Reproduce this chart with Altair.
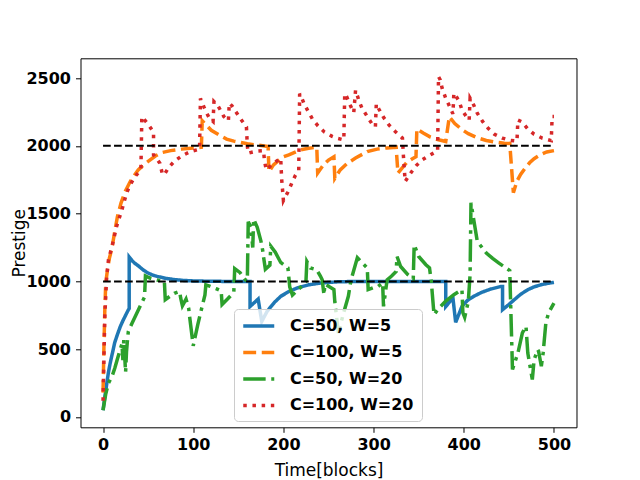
import altair as alt
import pandas as pd

SERIES = ["C=50, W=5", "C=100, W=5", "C=50, W=20", "C=100, W=20"]
COLORS = ["#1f77b4", "#ff7f0e", "#2ca02c", "#d62728"]
DASHES = [[1, 0], [12.9, 5.6], [22.4, 5.6, 3.5, 5.6], [3.5, 5.7]]

X_TICKS = [0, 100, 200, 300, 400, 500]
Y_TICKS = [0, 500, 1000, 1500, 2000, 2500]
TARGETS = [1000, 2000]

BLUE = [(0,50),(2,150),(4,240),(6,330),(8,400),(10,460),(13,550),(16,610),(19,665),(22,710),
        (25,750),(28,790),(29,800),(29,1180),(32,1155),(35,1135),(39,1116),(45,1082),(50,1062),
        (55,1047),(60,1037),(65,1030),(70,1022),(80,1013),(90,1007),(100,1004),(120,1001),
        (140,1000),(163,1000),(163,815),(172,870),(176,705),(182,780),(190,845),(197,890),
        (206,925),(215,951),(228,975),(241,988),(260,997),(280,1000),(380,1000),(380,815),
        (388,877),(391,698),(398,816),(404,860),(411,890),(420,920),(430,944),(441,963),
        (443,963),(443,791),(450,830),(456,865),(463,905),(471,939),(478,960),(486,976),
        (493,986),(500,993)]

ORANGE = [(0,180),(1,520),(2,800),(3,990),(5,1090),(7,1170),(10,1250),(13,1370),(16,1480),
          (20,1580),(25,1670),(30,1735),(35,1785),(39,1823),(45,1860),(50,1885),(58,1925),
          (65,1950),(75,1965),(87,1976),(100,1985),(109,1990),(110,2185),(115,2150),(120,2115),
          (130,2075),(137,2050),(145,2035),(160,2015),(172,2005),(183,1995),(184,1810),
          (189,1860),(199,1917),(206,1934),(219,1971),(228,1982),(237,1990),(238,1800),
          (245,1865),(250,1895),(256,1920),(257,1760),(263,1823),(271,1872),(280,1910),
          (293,1958),(304,1976),(315,1985),(325,1990),(327,1800),(332,1840),(337,1880),
          (343,1905),(347,1920),(348,2125),(355,2095),(363,2065),(372,2045),(380,2032),
          (384,2215),(390,2165),(398,2120),(405,2090),(415,2060),(425,2040),(435,2028),
          (445,2020),(451,2018),(455,1655),(459,1740),(463,1790),(468,1835),(473,1875),
          (478,1905),(485,1935),(492,1955),(500,1965)]

GREEN = [(0,50),(3,170),(6,250),(10,300),(13,360),(16,430),(19,497),(21,540),(22,420),
         (23,570),(25,330),(26,480),(27,560),(28,630),(32,690),(37,760),(42,830),(46,885),
         (47,1040),(52,1025),(60,1010),(68,1000),(69,865),(74,890),(79,912),(85,926),(86,880),
         (88,820),(92,870),(95,800),(96,740),(100,525),(105,680),(110,820),(113,900),(114,975),
         (119,963),(126,945),(131,930),(132,830),(138,870),(145,920),(146,1095),(152,1065),
         (158,1010),(160,1005),(161,1440),(164,1400),(166,1250),(167,1460),(171,1400),
         (175,1300),(177,1230),(178,1180),(180,1090),(185,1120),(186,1260),(191,1215),
         (197,1140),(205,1100),(207,960),(210,900),(218,950),(225,1000),(226,1147),(230,1099),
         (237,1086),(241,1040),(243,1012),(245,900),(246,980),(256,940),(257,850),(261,620),
         (266,750),(272,890),(275,1012),(282,1175),(287,1140),(293,1099),(294,940),(300,955),
         (305,963),(310,990),(311,816),(315,1012),(320,1040),(325,1074),(326,1184),(330,1110),
         (338,1050),(344,1020),(345,1270),(350,1184),(358,1123),(362,1100),(364,1000),
         (367,755),(372,800),(380,855),(389,902),(398,940),(399,769),(401,735),(405,850),
         (407,1050),(408,1580),(415,1295),(425,1210),(432,1170),(439,1135),(447,1099),
         (451,1080),(454,350),(460,472),(465,620),(469,668),(471,472),(476,276),(478,423),
         (482,497),(483,484),(486,374),(488,472),(491,693),(494,767),(500,840)]

RED = [(0,120),(1,450),(2,750),(4,1030),(6,1160),(10,1260),(15,1405),(21,1530),(26,1650),
       (30,1710),(35,1770),(42,1825),(43,2215),(47,2184),(51,2150),(54,2120),(56,2100),
       (56,1934),(60,1900),(63,1872),(66,1786),(69,1800),(73,1843),(80,1892),(88,1929),
       (97,1958),(107,1976),(108,2350),(112,2285),(115,2241),(118,2204),(122,2180),
       (123,2327),(127,2300),(130,2265),(134,2216),(139,2185),(140,2315),(143,2295),
       (148,2245),(153,2195),(159,2140),(160,2000),(161,1946),(166,1955),(171,1962),
       (178,1965),(179,1890),(181,1823),(187,1860),(192,1885),(197,1909),(198,1760),
       (200,1597),(205,1660),(209,1720),(213,1779),(217,1820),(218,2385),(220,2360),
       (223,2310),(227,2260),(232,2200),(238,2150),(245,2105),(254,2070),(260,2055),
       (267,2044),(268,2385),(270,2365),(274,2302),(278,2245),(280,2410),(284,2330),
       (287,2280),(293,2216),(298,2165),(302,2140),(303,2310),(306,2270),(311,2211),
       (317,2155),(324,2106),(332,2057),(333,1934),(335,1737),(341,1799),(347,1853),
       (354,1897),(363,1934),(371,1963),(372,2511),(374,2486),(376,2425),(380,2351),
       (384,2295),(388,2236),(389,2388),(392,2360),(395,2327),(398,2265),(404,2204),
       (406,2190),(407,2351),(411,2302),(415,2241),(421,2179),(427,2130),(434,2086),
       (443,2057),(452,2040),(459,2035),(460,2191),(464,2179),(471,2125),(478,2086),
       (487,2057),(497,2039),(498,2216),(500,2216)]

rows = []
for name, pts in zip(SERIES, [BLUE, ORANGE, GREEN, RED]):
    for i, (t, v) in enumerate(pts):
        rows.append({"series": name, "t": t, "v": v, "i": i})
df = pd.DataFrame(rows)

hdf = pd.DataFrame({"t": [0 for _ in TARGETS], "t2": [500 for _ in TARGETS], "v": TARGETS})

FONT = "DejaVu Sans"

X = alt.X("t:Q",
          scale=alt.Scale(domain=[-25, 525], nice=False, zero=False),
          axis=alt.Axis(values=X_TICKS, format="d", title="Time[blocks]", grid=False, domain=False,
                        tickColor="black", tickSize=5, tickWidth=1,
                        labelFont=FONT, labelFontSize=16, labelFontWeight="bold",
                        labelColor="black", labelPadding=4, labelFlush=False,
                        titleFont=FONT, titleFontSize=17, titleFontWeight="normal",
                        titleColor="black", titleX=248, titleY=48,
                        titleBaseline="alphabetic", titleAlign="center"))
Y = alt.Y("v:Q",
          scale=alt.Scale(domain=[-76, 2646], nice=False, zero=False),
          axis=alt.Axis(values=Y_TICKS, format="d", title="Prestige", grid=False, domain=False,
                        tickColor="black", tickSize=5, tickWidth=1,
                        labelFont=FONT, labelFontSize=16, labelFontWeight="bold",
                        labelColor="black", labelPadding=5, labelFlush=False,
                        titleFont=FONT, titleFontSize=17, titleFontWeight="normal",
                        titleColor="black", titleX=-61, titleY=184.5, titleAngle=270,
                        titleBaseline="middle", titleAlign="center"))

legend = alt.Legend(orient="none", legendX=153.5, legendY=250.7, title=None,
                    symbolType="M-1,0H3", symbolSize=240.25, symbolStrokeWidth=3.5,
                    labelFont=FONT, labelFontSize=16, labelFontWeight="bold",
                    labelColor="black", labelOffset=29.5, rowPadding=8.5, padding=7.5,
                    fillColor="rgba(255,255,255,0.8)", strokeColor="#cccccc",
                    cornerRadius=4)

color = alt.Color("series:N", scale=alt.Scale(domain=SERIES, range=COLORS), legend=legend)
dash = alt.StrokeDash("series:N", scale=alt.Scale(domain=SERIES, range=DASHES), legend=legend)

layers = []
for name in SERIES:
    layers.append(
        alt.Chart(df).transform_filter(alt.datum.series == name)
        .mark_line(strokeWidth=3.5, strokeCap="butt", clip=True)
        .encode(x=X, y=Y, color=color, strokeDash=dash, order="i:Q")
    )

rules = alt.Chart(hdf).mark_rule(color="black", strokeWidth=2, strokeDash=[7.7, 3.3]).encode(
    x=X, x2="t2:Q", y=Y)

chart = alt.layer(*layers, rules).properties(
    width=496, height=369,
    autosize=alt.AutoSizeParams(type="none"),
    padding={"left": 72.5, "top": 50.3, "right": 55.5, "bottom": 52},
    background="white",
).configure_view(stroke="black", strokeWidth=1)

chart.save("out.html", embed_options={"renderer": "svg", "actions": False})
